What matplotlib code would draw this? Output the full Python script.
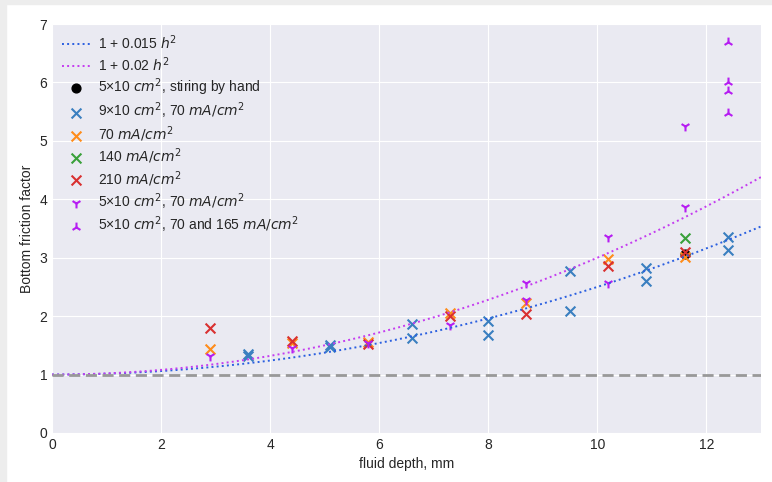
import matplotlib
matplotlib.use("Agg")
import matplotlib.pyplot as plt
import numpy as np
from matplotlib.patches import Rectangle

plt.style.use("seaborn-v0_8-darkgrid")
plt.rcParams['font.family'] = ['Liberation Sans', 'DejaVu Sans']

# data
h_hand = [11.6]
f_hand = [3.06]

h_blue = [3.6, 3.6, 5.1, 5.1, 6.6, 6.6, 8.0, 8.0, 9.5, 9.5, 10.9, 10.9, 12.4, 12.4]
f_blue = [1.31, 1.35, 1.47, 1.51, 1.87, 1.62, 1.92, 1.68, 2.78, 2.09, 2.83, 2.60, 3.36, 3.13]

h_orange = [2.9, 4.4, 5.8, 7.3, 8.7, 10.2, 11.6]
f_orange = [1.44, 1.54, 1.56, 2.05, 2.22, 2.98, 3.01]

h_green = [11.6]
f_green = [3.34]

h_red = [2.9, 4.4, 5.8, 7.3, 8.7, 10.2, 11.6]
f_red = [1.79, 1.58, 1.52, 2.00, 2.03, 2.86, 3.09]

h_tri = [2.9, 4.4, 5.8, 7.3, 8.7, 8.7, 10.2, 10.2, 11.6, 11.6]
f_tri = [1.32, 1.46, 1.54, 1.84, 2.57, 2.28, 3.36, 2.57, 5.26, 3.87]

h_triup = [12.4, 12.4, 12.4, 12.4]
f_triup = [6.70, 6.01, 5.86, 5.48]

coef1 = 0.015
coef2 = 0.02

fig = plt.figure(figsize=(7.72, 4.82), dpi=100)
fig.patch.set_facecolor('white')
ax = fig.add_axes([52/772, 1-433/482, (761-52)/772, (433-24)/482])

h = np.linspace(0, 13, 300)
ax.plot(h, 1 + coef1 * h**2, ':', color='#2a5fe0', lw=1.4, label=r'1 + 0.015 $h^2$')
ax.plot(h, 1 + coef2 * h**2, ':', color='#c43cf0', lw=1.4, label=r'1 + 0.02 $h^2$')
ax.axhline(1, color='#999999', ls='--', lw=2, dashes=(4, 2))

ax.scatter(h_hand, f_hand, color='black', s=40, label=r'5×10 $cm^2$, stiring by hand')
ax.scatter(h_blue, f_blue, marker='x', color='#3a7fc0', s=50, label=r'9×10 $cm^2$, 70 $mA/cm^2$')
ax.scatter(h_orange, f_orange, marker='x', color='#ff8c1a', s=50, label=r'70 $mA/cm^2$')
ax.scatter(h_green, f_green, marker='x', color='#3aa03a', s=50, label=r'140 $mA/cm^2$')
ax.scatter(h_red, f_red, marker='x', color='#d93030', s=50, label=r'210 $mA/cm^2$')
ax.scatter(h_tri, f_tri, marker='1', color='#b61df2', s=50, label=r'5×10 $cm^2$, 70 $mA/cm^2$')
ax.scatter(h_triup, f_triup, marker='2', color='#b61df2', s=50, label=r'5×10 $cm^2$, 70 and 165 $mA/cm^2$')

ax.set_xlim(0, 13)
ax.set_ylim(0, 7)
ax.set_xlabel('fluid depth, mm', fontsize=10)
ax.set_ylabel('Bottom friction factor', fontsize=10)
ax.tick_params(labelsize=10)

ax.legend(loc='upper left', frameon=False, fontsize=10, labelspacing=0.2,
          borderaxespad=0.3, handletextpad=0.6)

# screenshot border
fig.patches.append(Rectangle((0, 0), 6/772, 1, transform=fig.transFigure, color='#ededed', zorder=-1))
fig.patches.append(Rectangle((0, 1-4/482), 1, 4/482, transform=fig.transFigure, color='#ededed', zorder=-1))

fig.savefig('out.png', dpi=100)
